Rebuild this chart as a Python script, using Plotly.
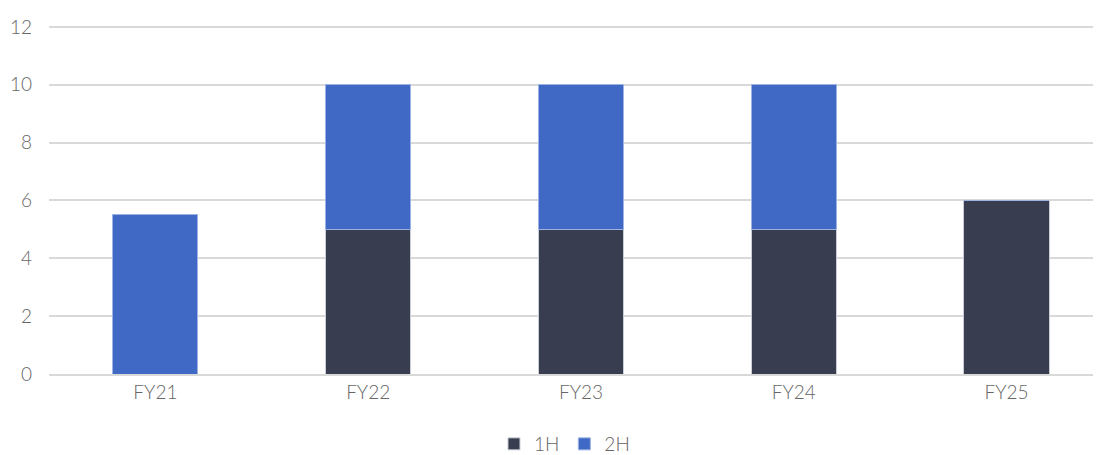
import plotly.graph_objects as go

categories = ["FY21", "FY22", "FY23", "FY24", "FY25"]
h1 = [0, 5, 5, 5, 6]
h2 = [5.5, 5, 5, 5, 0]
y_ticks = [0, 2, 4, 6, 8, 10, 12]

fig = go.Figure()
fig.add_trace(go.Bar(x=categories, y=h1, name="1H", marker=dict(color="#383E50", line=dict(color="#C9CDD6", width=1))))
fig.add_trace(go.Bar(x=categories, y=h2, name="2H", marker=dict(color="#3F69C4", line=dict(color="#9DB3E3", width=1))))

fig.update_layout(
    barmode="stack",
    bargap=0.6,
    width=1093, height=447,
    margin=dict(l=41, r=0, t=16, b=81, autoexpand=False),
    plot_bgcolor="white", paper_bgcolor="white",
    font=dict(family="Lato", size=19, color="#666666", weight=300),
    legend=dict(orientation="h", x=0.49, xanchor="center", y=-0.2, yanchor="middle",
                font=dict(size=19, color="#666666", weight=300), itemwidth=30, traceorder="normal"),
    xaxis=dict(range=[-0.5, 4.444], showgrid=False, showline=True, linecolor="#D9D9D9", linewidth=1.5,
               ticks="", automargin=False, tickfont=dict(size=19, color="#666666", weight=300)),
    yaxis=dict(range=[0, 12.1], tickvals=y_ticks, showgrid=True, gridcolor="#D9D9D9", gridwidth=1.5,
               zeroline=False, ticks="", automargin=False, ticklabelstandoff=16,
               tickfont=dict(size=19, color="#666666", weight=300)),
)
fig.write_html("out.html")
